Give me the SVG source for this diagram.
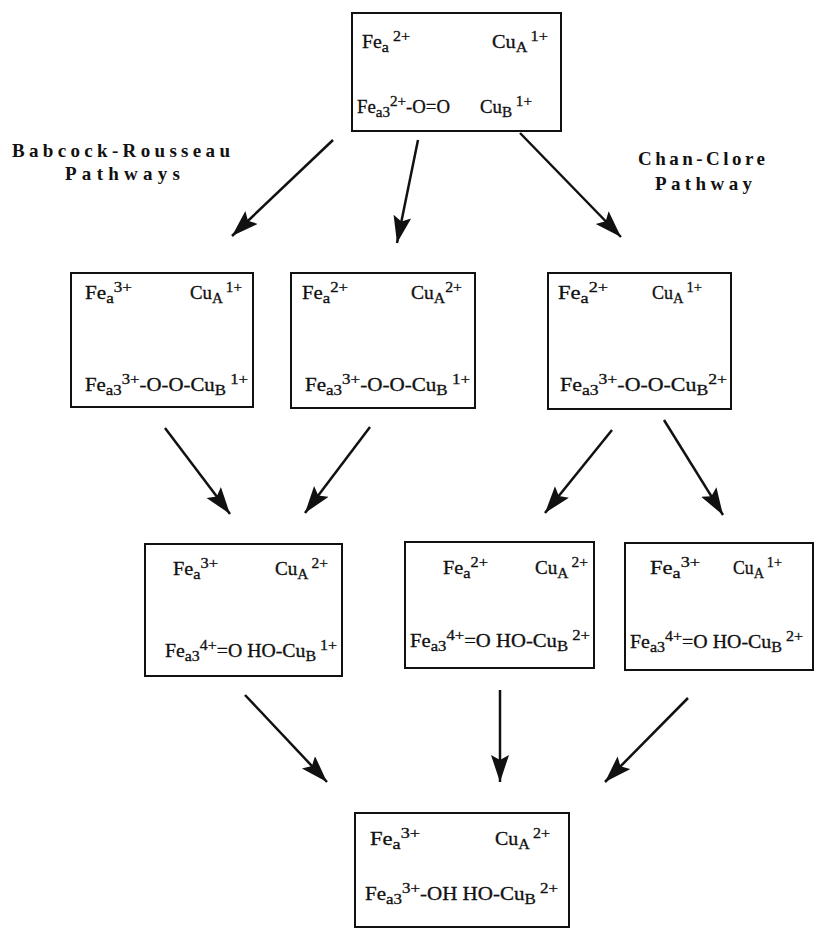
<svg xmlns="http://www.w3.org/2000/svg" width="817" height="936" viewBox="0 0 817 936">
<defs>
<style>
.box{fill:#fff;stroke:#111;stroke-width:2}
.t{font-family:"Liberation Serif","Times New Roman",serif;font-size:18px;fill:#111;stroke:#111;stroke-width:0.3}
.s{font-size:14.5px}
.lbl{font-family:"Liberation Serif","Times New Roman",serif;font-size:19px;font-weight:bold;fill:#111}
.arr{stroke:#111;stroke-width:2.5;fill:none;marker-end:url(#ah)}
</style>
<marker id="ah" markerUnits="userSpaceOnUse" markerWidth="30" markerHeight="20" refX="27" refY="9" orient="auto">
<path d="M0,0 L27,9 L0,18 L5,9 z" fill="#111"/>
</marker>
</defs>
<rect width="817" height="936" fill="#fff"/>

<g id="labels">
<text class="lbl" x="12" y="157" textLength="218" lengthAdjust="spacing">Babcock-Rousseau</text>
<text class="lbl" x="65" y="180" textLength="115" lengthAdjust="spacing">Pathways</text>
<text class="lbl" x="638" y="165" textLength="127" lengthAdjust="spacing">Chan-Clore</text>
<text class="lbl" x="655" y="190" textLength="97" lengthAdjust="spacing">Pathway</text>
</g>

<g id="n0">
<rect class="box" x="352" y="13" width="209" height="118"/>
<text class="t" x="362" y="48" textLength="48" lengthAdjust="spacingAndGlyphs">Fe<tspan class="s" dy="4">a</tspan><tspan class="s" dy="-11"> 2+</tspan></text>
<text class="t" x="492" y="48" textLength="56" lengthAdjust="spacingAndGlyphs">Cu<tspan class="s" dy="4">A</tspan><tspan class="s" dy="-11"> 1+</tspan></text>
<text class="t" x="357" y="113" textLength="93" lengthAdjust="spacingAndGlyphs">Fe<tspan class="s" dy="4">a3</tspan><tspan class="s" dy="-11">2+</tspan><tspan dy="7">-O=O</tspan></text>
<text class="t" x="480" y="113" textLength="52" lengthAdjust="spacingAndGlyphs">Cu<tspan class="s" dy="4">B</tspan><tspan class="s" dy="-11"> 1+</tspan></text>
</g>

<g id="n1">
<rect class="box" x="71" y="273" width="182" height="134"/>
<text class="t" x="85" y="299" textLength="47" lengthAdjust="spacingAndGlyphs">Fe<tspan class="s" dy="4">a</tspan><tspan class="s" dy="-11">3+</tspan></text>
<text class="t" x="190" y="299" textLength="52" lengthAdjust="spacingAndGlyphs">Cu<tspan class="s" dy="4">A</tspan><tspan class="s" dy="-11"> 1+</tspan></text>
<text class="t" x="85" y="391" textLength="163" lengthAdjust="spacingAndGlyphs">Fe<tspan class="s" dy="4">a3</tspan><tspan class="s" dy="-11">3+</tspan><tspan dy="7">-O-O-Cu</tspan><tspan class="s" dy="4">B</tspan><tspan class="s" dy="-11"> 1+</tspan></text>
</g>

<g id="n2">
<rect class="box" x="291" y="273" width="184" height="135"/>
<text class="t" x="302" y="299" textLength="46" lengthAdjust="spacingAndGlyphs">Fe<tspan class="s" dy="4">a</tspan><tspan class="s" dy="-11">2+</tspan></text>
<text class="t" x="411" y="299" textLength="51" lengthAdjust="spacingAndGlyphs">Cu<tspan class="s" dy="4">A</tspan><tspan class="s" dy="-11">2+</tspan></text>
<text class="t" x="305" y="391" textLength="165" lengthAdjust="spacingAndGlyphs">Fe<tspan class="s" dy="4">a3</tspan><tspan class="s" dy="-11">3+</tspan><tspan dy="7">-O-O-Cu</tspan><tspan class="s" dy="4">B</tspan><tspan class="s" dy="-11"> 1+</tspan></text>
</g>

<g id="n3">
<rect class="box" x="548" y="273" width="183" height="136"/>
<text class="t" x="558" y="299" textLength="50" lengthAdjust="spacingAndGlyphs">Fe<tspan class="s" dy="4">a</tspan><tspan class="s" dy="-11">2+</tspan></text>
<text class="t" x="652" y="299" textLength="50" lengthAdjust="spacingAndGlyphs">Cu<tspan class="s" dy="4">A</tspan><tspan class="s" dy="-11"> 1+</tspan></text>
<text class="t" x="560" y="391" textLength="167" lengthAdjust="spacingAndGlyphs">Fe<tspan class="s" dy="4">a3</tspan><tspan class="s" dy="-11">3+</tspan><tspan dy="7">-O-O-Cu</tspan><tspan class="s" dy="4">B</tspan><tspan class="s" dy="-11">2+</tspan></text>
</g>

<g id="n4">
<rect class="box" x="145" y="544" width="197" height="132"/>
<text class="t" x="173" y="575" textLength="45" lengthAdjust="spacingAndGlyphs">Fe<tspan class="s" dy="4">a</tspan><tspan class="s" dy="-11">3+</tspan></text>
<text class="t" x="275" y="575" textLength="53" lengthAdjust="spacingAndGlyphs">Cu<tspan class="s" dy="4">A</tspan><tspan class="s" dy="-11"> 2+</tspan></text>
<text class="t" x="165" y="657" textLength="172" lengthAdjust="spacingAndGlyphs">Fe<tspan class="s" dy="4">a3</tspan><tspan class="s" dy="-11">4+</tspan><tspan dy="7">=O HO-Cu</tspan><tspan class="s" dy="4">B</tspan><tspan class="s" dy="-11"> 1+</tspan></text>
</g>

<g id="n5">
<rect class="box" x="405" y="542" width="189" height="126"/>
<text class="t" x="443" y="574" textLength="45" lengthAdjust="spacingAndGlyphs">Fe<tspan class="s" dy="4">a</tspan><tspan class="s" dy="-11">2+</tspan></text>
<text class="t" x="535" y="574" textLength="53" lengthAdjust="spacingAndGlyphs">Cu<tspan class="s" dy="4">A</tspan><tspan class="s" dy="-11"> 2+</tspan></text>
<text class="t" x="410" y="647" textLength="180" lengthAdjust="spacingAndGlyphs">Fe<tspan class="s" dy="4">a3</tspan><tspan class="s" dy="-11">4+</tspan><tspan dy="7">=O HO-Cu</tspan><tspan class="s" dy="4">B</tspan><tspan class="s" dy="-11"> 2+</tspan></text>
</g>

<g id="n6">
<rect class="box" x="625" y="543" width="188" height="127"/>
<text class="t" x="650" y="574" textLength="50" lengthAdjust="spacingAndGlyphs">Fe<tspan class="s" dy="4">a</tspan><tspan class="s" dy="-11">3+</tspan></text>
<text class="t" x="733" y="574" textLength="49" lengthAdjust="spacingAndGlyphs">Cu<tspan class="s" dy="4">A</tspan><tspan class="s" dy="-11"> 1+</tspan></text>
<text class="t" x="630" y="648" textLength="173" lengthAdjust="spacingAndGlyphs">Fe<tspan class="s" dy="4">a3</tspan><tspan class="s" dy="-11">4+</tspan><tspan dy="7">=O HO-Cu</tspan><tspan class="s" dy="4">B</tspan><tspan class="s" dy="-11"> 2+</tspan></text>
</g>

<g id="n7">
<rect class="box" x="355" y="813" width="214" height="114"/>
<text class="t" x="370" y="845" textLength="50" lengthAdjust="spacingAndGlyphs">Fe<tspan class="s" dy="4">a</tspan><tspan class="s" dy="-11">3+</tspan></text>
<text class="t" x="495" y="845" textLength="55" lengthAdjust="spacingAndGlyphs">Cu<tspan class="s" dy="4">A</tspan><tspan class="s" dy="-11"> 2+</tspan></text>
<text class="t" x="365" y="900" textLength="193" lengthAdjust="spacingAndGlyphs">Fe<tspan class="s" dy="4">a3</tspan><tspan class="s" dy="-11">3+</tspan><tspan dy="7">-OH  HO-Cu</tspan><tspan class="s" dy="4">B</tspan><tspan class="s" dy="-11"> 2+</tspan></text>
</g>

<g id="connectors">
<line class="arr" x1="333" y1="140" x2="232" y2="236"/>
<line class="arr" x1="418" y1="140" x2="397" y2="243"/>
<line class="arr" x1="520" y1="133" x2="621" y2="237"/>
<line class="arr" x1="165" y1="428" x2="230" y2="514"/>
<line class="arr" x1="370" y1="427" x2="305" y2="513"/>
<line class="arr" x1="612" y1="430" x2="545" y2="513"/>
<line class="arr" x1="664" y1="420" x2="723" y2="515"/>
<line class="arr" x1="245" y1="695" x2="327" y2="782"/>
<line class="arr" x1="500" y1="690" x2="500" y2="782"/>
<line class="arr" x1="688" y1="698" x2="605" y2="782"/>
</g>
</svg>
